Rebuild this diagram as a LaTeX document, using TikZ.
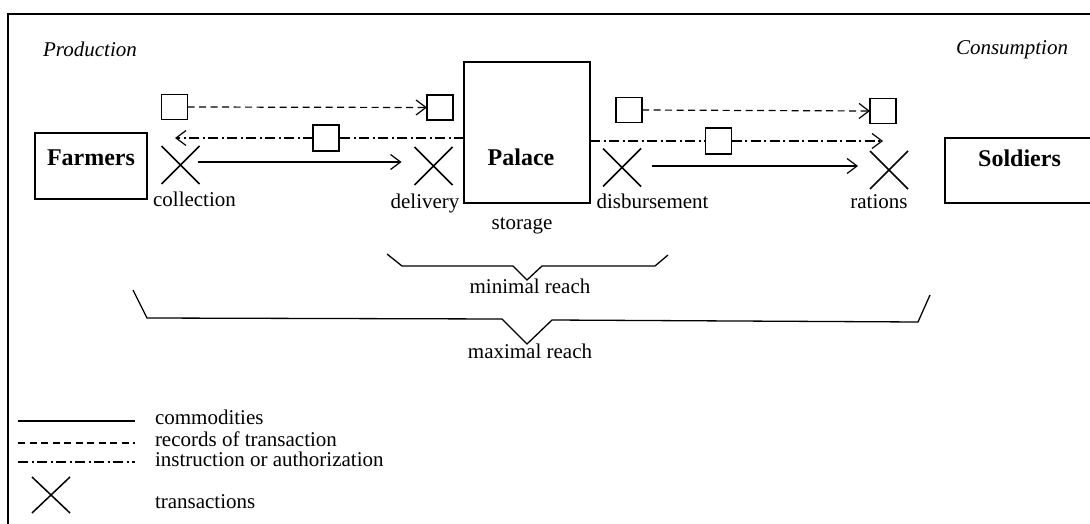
\documentclass[tikz,border=0pt]{standalone}
\usepackage{fontspec}
\setmainfont{Liberation Serif}
\usetikzlibrary{arrows.meta,shapes.misc}
\begin{document}
\begin{tikzpicture}[x=1pt,y=-1pt,
  every node/.style={inner sep=0pt, outer sep=0pt},
  lbl/.style={font=\fontsize{21}{25}\selectfont, anchor=base},
  lgd/.style={font=\fontsize{21}{25}\selectfont, anchor=base west},
  ttl/.style={font=\fontsize{21}{25}\selectfont\itshape, anchor=base},
  big/.style={font=\fontsize{24}{28}\selectfont\bfseries, anchor=base},
  box/.style={draw, line width=1.2pt},
  recbox/.style={draw, minimum width=26pt, minimum height=25pt, line width=1.2pt, fill=white},
  tx/.style={draw, cross out, minimum width=38pt, minimum height=38pt, line width=1.5pt},
  tip/.style={-{Straight Barb[length=10pt,width=15pt,line width=1.2pt]}},
  comm/.style={line width=1.2pt},
  recline/.style={line width=1.2pt, dash pattern=on 7pt off 4.5pt},
  instr/.style={line width=1.2pt, dash pattern=on 10pt off 3.5pt on 2pt off 3.5pt},
  bracket/.style={line width=1.3pt, line join=miter},
]
\clip (0,0) rectangle (1090,524);
\fill[white] (0,0) rectangle (1090,524);
% frame
\draw[line width=1.4pt] (8,540) -- (8,14) -- (1100,14);

% titles
\node[ttl] (prod) at (90,57) {Production};
\node[ttl] (cons) at (1012,55) {Consumption};

% main boxes
\node[box, minimum width=112pt, minimum height=66pt] (farmers) at (91,166) {};
\node[big] (farmerst) at (91,165) {Farmers};
\node[box, minimum width=126pt, minimum height=141pt] (palace) at (527,132.5) {};
\node[big] (palacet) at (521,165) {Palace};
\node[box, minimum width=160pt, minimum height=65pt] (soldiers) at (1025,170.5) {};
\node[big] (soldierst) at (1019.5,166.5) {Soldiers};

% transactions
\node[tx] (x1) at (180.5,165) {};
\node[tx] (x2) at (433.5,166) {};
\node[tx] (x3) at (622,167.5) {};
\node[tx] (x4) at (889,170) {};

% labels
\node[lbl] (lcol) at (194.5,207) {collection};
\node[lbl] (ldel) at (425,208) {delivery};
\node[lbl] (lsto) at (522,229) {storage};
\node[lbl] (ldis) at (652.5,208) {disbursement};
\node[lbl] (lrat) at (879,208) {rations};

% record squares
\node[recbox] (s1) at (174.6,107) {};
\node[recbox] (s2) at (440,107.5) {};
\node[recbox] (s3) at (629,110) {};
\node[recbox] (s4) at (883,111) {};
\node[recbox, minimum height=26pt] (m1) at (326,138) {};
\node[recbox, minimum height=26pt] (m2) at (718.5,141) {};

% records of transaction
\draw[recline, tip] (s1.east) -- (s2.west);
\draw[recline, tip] (s3.east) -- (s4.west);

% instructions
\coordinate (tipL) at (175,138);
\coordinate (tipR) at (883,141);
\draw[instr] (palace.west |- m1) -- (m1.east);
\draw[instr, tip] (m1.west) -- (tipL);
\draw[instr] (palace.east |- m2) -- (m2.west);
\draw[instr, tip] (m2.east) -- (tipR);

% commodities
\draw[comm, tip] ([xshift=-2pt,yshift=3pt]x1.east) -- ([xshift=-13pt,yshift=4pt]x2.west);
\draw[comm, tip] ([xshift=11pt,yshift=1.5pt]x3.east) -- ([xshift=-12pt,yshift=4pt]x4.west);

% brackets
\draw[bracket] (387,254) -- (402,266) -- (513,266) -- (527,280) -- (542,266) -- (655,266) -- (668,255);
\node[lbl] (minr) at (530,293) {minimal reach};
\draw[bracket] (133,290) -- (147,318) -- (502,319) -- (527,344) -- (552,320) -- (918,322) -- (930,295);
\node[lbl] (maxr) at (530,358) {maximal reach};

% legend
\coordinate (l1a) at (18,421); \coordinate (l1b) at (135,421);
\coordinate (l2a) at (18,443); \coordinate (l2b) at (135,443);
\coordinate (l3a) at (18,462); \coordinate (l3b) at (135,462);
\draw[comm] (l1a) -- (l1b);
\draw[recline] (l2a) -- (l2b);
\draw[instr] (l3a) -- (l3b);
\node[tx, minimum height=36pt] (lx) at (51,495) {};
\node[lgd] (t1) at (155,424) {commodities};
\node[lgd] (t2) at (155,446) {records of transaction};
\node[lgd] (t3) at (155,466) {instruction or authorization};
\node[lgd] (t4) at (155,508) {transactions};
\end{tikzpicture}
\end{document}
